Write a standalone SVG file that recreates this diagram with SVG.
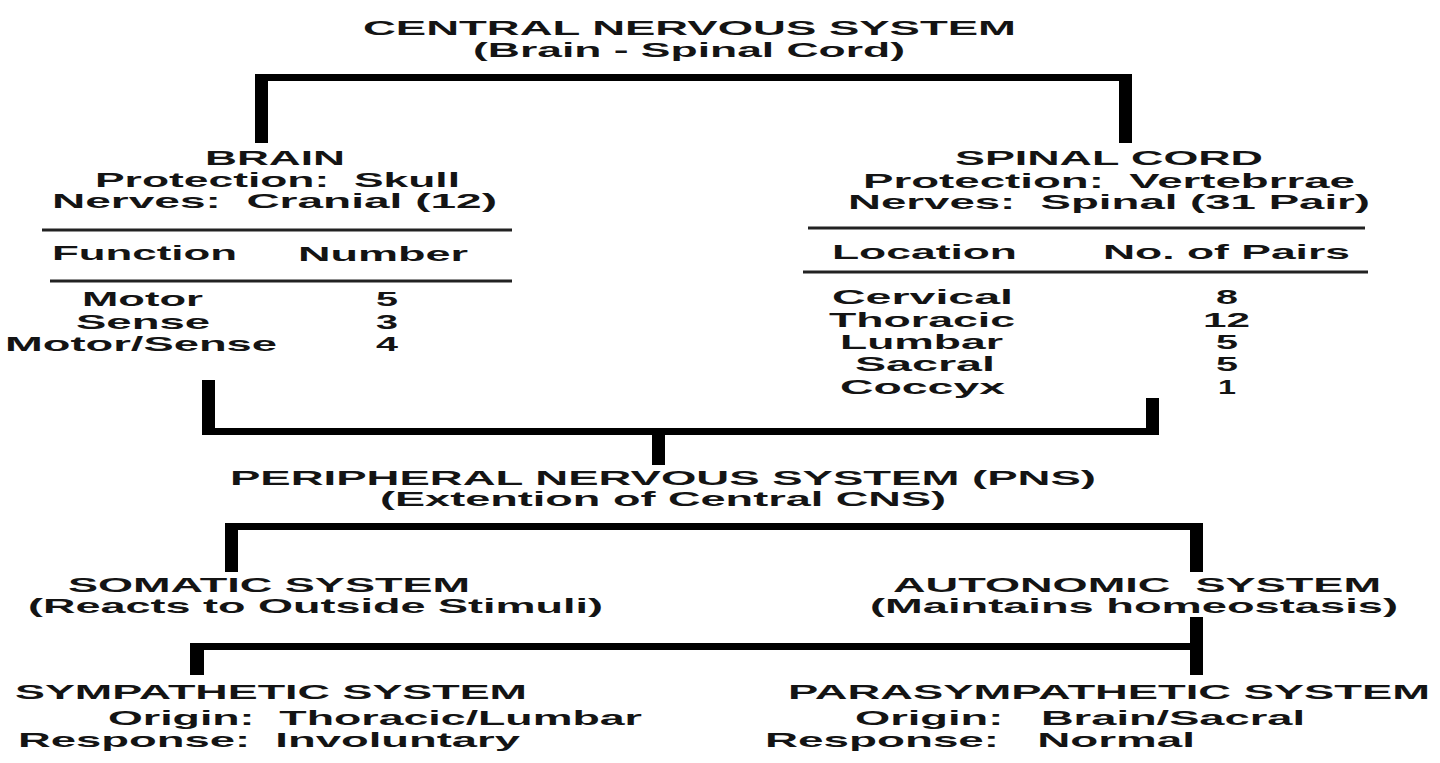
<svg xmlns="http://www.w3.org/2000/svg" width="1440" height="763" viewBox="0 0 1440 763">
<style>
text{font-family:"Liberation Sans",Arial,sans-serif;font-weight:bold;font-size:21px;fill:#141414;white-space:pre}
.stem{fill:#000}
.rule{stroke:#222;stroke-width:3}
</style>
<rect width="1440" height="763" fill="#fff"/>
<g id="connectors">
<rect class="stem" x="255" y="74" width="877" height="7"/>
<rect class="stem" x="255" y="74" width="13" height="69"/>
<rect class="stem" x="1119" y="74" width="13" height="69"/>
<rect class="stem" x="202" y="428" width="957" height="7"/>
<rect class="stem" x="202" y="380" width="13" height="55"/>
<rect class="stem" x="1146" y="398" width="13" height="37"/>
<rect class="stem" x="652" y="430" width="13" height="35"/>
<rect class="stem" x="225" y="523" width="978" height="7"/>
<rect class="stem" x="225" y="523" width="13" height="49"/>
<rect class="stem" x="1190" y="523" width="13" height="49"/>
<rect class="stem" x="190" y="643" width="1013" height="7"/>
<rect class="stem" x="190" y="643" width="14" height="32"/>
<rect class="stem" x="1190" y="617" width="13" height="58"/>
</g>
<g id="cns">
<text x="363" y="35" textLength="653" lengthAdjust="spacingAndGlyphs">CENTRAL NERVOUS SYSTEM</text>
<text x="473" y="57" textLength="432" lengthAdjust="spacingAndGlyphs">(Brain - Spinal Cord)</text>
</g>
<g id="brain">
<text x="205" y="165" textLength="140" lengthAdjust="spacingAndGlyphs">BRAIN</text>
<text x="95" y="187" textLength="365" lengthAdjust="spacingAndGlyphs">Protection:  Skull</text>
<text x="52" y="208" textLength="445" lengthAdjust="spacingAndGlyphs">Nerves:  Cranial (12)</text>
<line class="rule" x1="42" y1="230" x2="512" y2="230"/>
<text x="52" y="260" textLength="185" lengthAdjust="spacingAndGlyphs">Function</text>
<text x="298" y="261" textLength="170" lengthAdjust="spacingAndGlyphs">Number</text>
<line class="rule" x1="50" y1="281" x2="512" y2="281"/>
<text x="82" y="306" textLength="121" lengthAdjust="spacingAndGlyphs">Motor</text>
<text x="376" y="306" textLength="22" lengthAdjust="spacingAndGlyphs">5</text>
<text x="76" y="329" textLength="134" lengthAdjust="spacingAndGlyphs">Sense</text>
<text x="376" y="329" textLength="22" lengthAdjust="spacingAndGlyphs">3</text>
<text x="5" y="351" textLength="272" lengthAdjust="spacingAndGlyphs">Motor/Sense</text>
<text x="376" y="351" textLength="22" lengthAdjust="spacingAndGlyphs">4</text>
</g>
<g id="spinal-cord">
<text x="955" y="165" textLength="308" lengthAdjust="spacingAndGlyphs">SPINAL CORD</text>
<text x="863" y="188" textLength="492" lengthAdjust="spacingAndGlyphs">Protection:  Vertebrrae</text>
<text x="848" y="209" textLength="522" lengthAdjust="spacingAndGlyphs">Nerves:  Spinal (31 Pair)</text>
<line class="rule" x1="808" y1="228" x2="1365" y2="228"/>
<text x="832" y="259" textLength="185" lengthAdjust="spacingAndGlyphs">Location</text>
<text x="1103" y="259" textLength="247" lengthAdjust="spacingAndGlyphs">No. of Pairs</text>
<line class="rule" x1="803" y1="272" x2="1368" y2="272"/>
<text x="832" y="304" textLength="181" lengthAdjust="spacingAndGlyphs">Cervical</text>
<text x="1216" y="304" textLength="22" lengthAdjust="spacingAndGlyphs">8</text>
<text x="829" y="327" textLength="186" lengthAdjust="spacingAndGlyphs">Thoracic</text>
<text x="1203" y="327" textLength="47" lengthAdjust="spacingAndGlyphs">12</text>
<text x="840" y="349" textLength="163" lengthAdjust="spacingAndGlyphs">Lumbar</text>
<text x="1216" y="349" textLength="22" lengthAdjust="spacingAndGlyphs">5</text>
<text x="855" y="371" textLength="140" lengthAdjust="spacingAndGlyphs">Sacral</text>
<text x="1216" y="371" textLength="22" lengthAdjust="spacingAndGlyphs">5</text>
<text x="840" y="394" textLength="165" lengthAdjust="spacingAndGlyphs">Coccyx</text>
<text x="1218" y="394" textLength="18" lengthAdjust="spacingAndGlyphs">1</text>
</g>
<g id="pns">
<text x="230" y="485" textLength="866" lengthAdjust="spacingAndGlyphs">PERIPHERAL NERVOUS SYSTEM (PNS)</text>
<text x="380" y="506" textLength="566" lengthAdjust="spacingAndGlyphs">(Extention of Central CNS)</text>
</g>
<g id="somatic">
<text x="68" y="592" textLength="402" lengthAdjust="spacingAndGlyphs">SOMATIC SYSTEM</text>
<text x="28" y="613" textLength="575" lengthAdjust="spacingAndGlyphs">(Reacts to Outside Stimuli)</text>
</g>
<g id="autonomic">
<text x="893" y="592" textLength="488" lengthAdjust="spacingAndGlyphs">AUTONOMIC  SYSTEM</text>
<text x="870" y="613" textLength="528" lengthAdjust="spacingAndGlyphs">(Maintains homeostasis)</text>
</g>
<g id="sympathetic">
<text x="15" y="699" textLength="512" lengthAdjust="spacingAndGlyphs">SYMPATHETIC SYSTEM</text>
<text x="108" y="725" textLength="534" lengthAdjust="spacingAndGlyphs">Origin:  Thoracic/Lumbar</text>
<text x="18" y="747" textLength="502" lengthAdjust="spacingAndGlyphs">Response:  Involuntary</text>
</g>
<g id="parasympathetic">
<text x="788" y="699" textLength="642" lengthAdjust="spacingAndGlyphs">PARASYMPATHETIC SYSTEM</text>
<text x="855" y="725" textLength="450" lengthAdjust="spacingAndGlyphs">Origin:   Brain/Sacral</text>
<text x="765" y="747" textLength="430" lengthAdjust="spacingAndGlyphs">Response:   Normal</text>
</g>
</svg>
